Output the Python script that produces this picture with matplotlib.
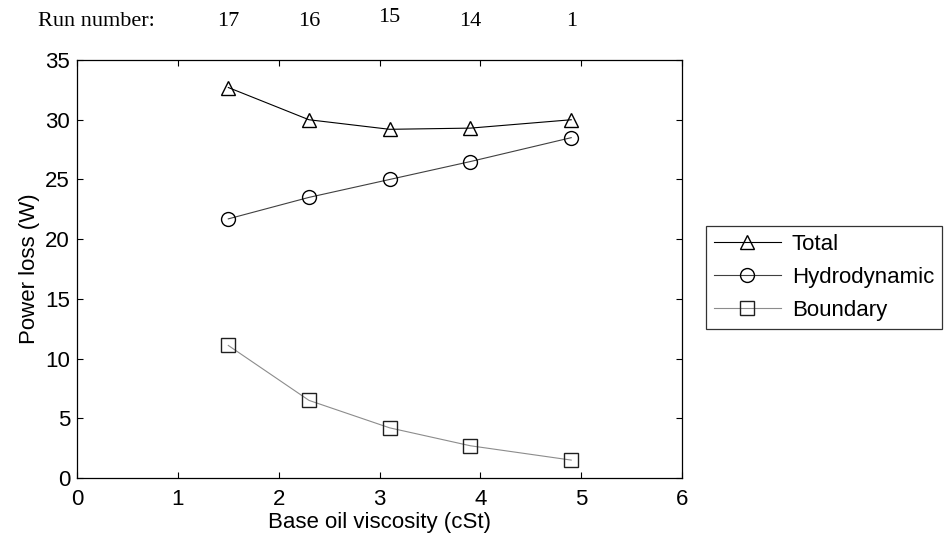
"""Power loss split against base oil viscosity."""

import matplotlib
matplotlib.use('Agg')
import matplotlib.pyplot as plt
import matplotlib.transforms as mtransforms

plt.rcParams['font.family'] = ['Liberation Sans', 'DejaVu Sans']

# viscosity of each run (cSt) and the run it came from
viscosity = [1.5, 2.3, 3.1, 3.9, 4.9]
run_labels = ['17', '16', '15', '14', '1']

# power loss (W)
total = [32.7, 30.0, 29.2, 29.3, 30.0]
hydrodynamic = [21.7, 23.5, 25.0, 26.5, 28.5]
boundary = [11.1, 6.5, 4.2, 2.7, 1.5]

fs = 16

fig = plt.figure(figsize=(9.44, 5.4), dpi=100)
ax = fig.add_axes([0.0816, 0.1148, 0.641, 0.774])

ax.plot(viscosity, total, color='black', lw=0.8, marker='^', ms=10,
        mfc='none', mec='black', mew=1.0, label='Total')
ax.plot(viscosity, hydrodynamic, color='#404040', lw=0.8, marker='o', ms=10,
        mfc='none', mec='black', mew=1.0, label='Hydrodynamic')
ax.plot(viscosity, boundary, color='#8c8c8c', lw=0.8, marker='s', ms=10,
        mfc='none', mec='#202020', mew=1.0, label='Boundary')

ax.set_xlim(0, 6)
ax.set_ylim(0, 35)
ax.set_xticks(range(0, 7))
ax.set_yticks(range(0, 36, 5))
ax.tick_params(direction='in', length=4, width=0.8, labelsize=fs,
               top=True, right=True)
ax.tick_params(axis='x', pad=8)
ax.tick_params(axis='y', pad=5)
for sp in ax.spines.values():
    sp.set_linewidth(0.9)

ax.set_xlabel('Base oil viscosity (cSt)', fontsize=fs, labelpad=1)
ax.set_ylabel('Power loss (W)', fontsize=fs, labelpad=4)

# run numbers over each point
trans = mtransforms.blended_transform_factory(ax.transData, fig.transFigure)
for xv, lab in zip(viscosity, run_labels):
    yy = 0.968 if lab == '15' else 0.961
    fig.text(xv, yy, lab, transform=trans, ha='center', va='center',
             fontsize=16, family='Liberation Serif')
fig.text(0.04, 0.961, 'Run number:', ha='left', va='center',
         fontsize=16, family='Liberation Serif')

leg = ax.legend(loc='upper left', bbox_to_anchor=(1.04, 0.603),
                fontsize=fs, frameon=True, fancybox=False, edgecolor='black',
                handlelength=3.0, handletextpad=0.5, borderpad=0.35,
                labelspacing=0.55, borderaxespad=0)
leg.get_frame().set_linewidth(0.9)

fig.savefig('out.png', dpi=100)
